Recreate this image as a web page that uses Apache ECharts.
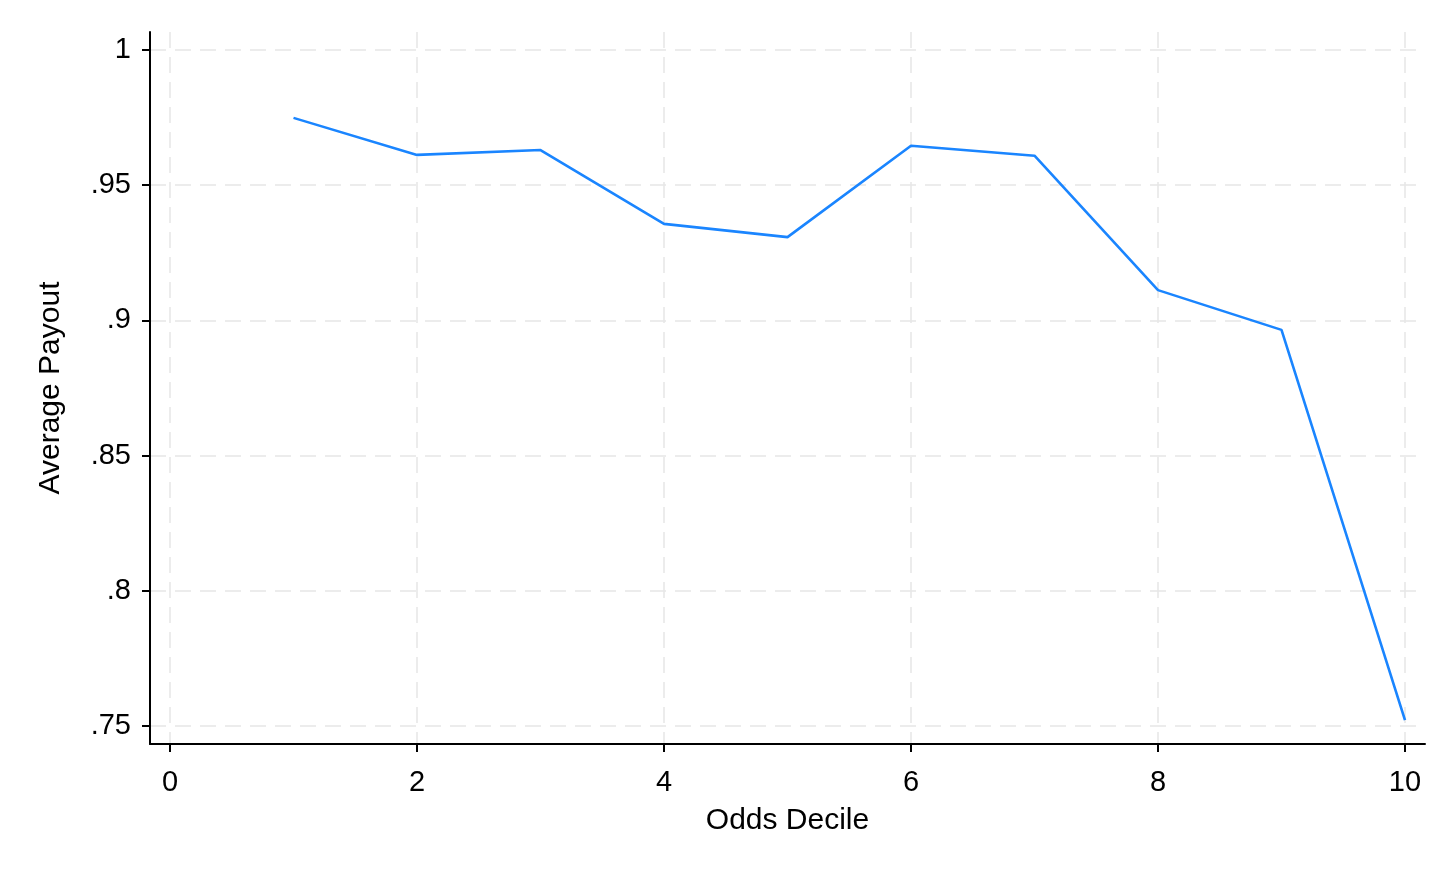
<!DOCTYPE html>
<html>
<head>
<meta charset="utf-8">
<script src="https://cdn.jsdelivr.net/npm/echarts@6/dist/echarts.min.js"></script>
<style>html,body{margin:0;padding:0;background:#fff}#c{width:1456px;height:873px}</style>
</head>
<body>
<div id="c"></div>
<script>
const deciles = [1, 2, 3, 4, 5, 6, 7, 8, 9, 10];
const payouts = [0.9749, 0.9612, 0.9630, 0.9357, 0.9308, 0.9646, 0.9609, 0.9112, 0.8965, 0.7522];
const xTicks = [0, 2, 4, 6, 8, 10];
const yTicks = [0.75, 0.8, 0.85, 0.9, 0.95, 1];
const xTitle = 'Odds Decile';
const yTitle = 'Average Payout';

const font = 'Liberation Sans, Arial, sans-serif';
const gridLine = { show: true, lineStyle: { color: '#e6e6e6', width: 1.5, type: [16, 9] } };

const chart = echarts.init(document.getElementById('c'), null, { renderer: 'canvas' });
chart.setOption({
  animation: false,
  backgroundColor: '#fff',
  grid: { left: 150, right: 31, top: 32, bottom: 129, containLabel: false },
  xAxis: {
    type: 'value',
    min: -0.162, max: 10.162,
    name: xTitle, nameLocation: 'middle', nameGap: 62,
    nameTextStyle: { fontFamily: font, fontSize: 30, color: '#000' },
    axisLine: { show: true, onZero: false, lineStyle: { color: '#000', width: 2 } },
    axisTick: { show: true, length: 8, customValues: xTicks, lineStyle: { color: '#000', width: 2 } },
    axisLabel: { customValues: xTicks, margin: 24, fontFamily: font, fontSize: 29, color: '#000' },
    splitLine: gridLine
  },
  yAxis: {
    type: 'value',
    min: 0.74334, max: 1.00666,
    name: yTitle, nameLocation: 'middle', nameGap: 84, nameRotate: 90,
    nameTextStyle: { fontFamily: font, fontSize: 30, color: '#000' },
    axisLine: { show: true, onZero: false, lineStyle: { color: '#000', width: 2 } },
    axisTick: { show: true, length: 8, customValues: yTicks, lineStyle: { color: '#000', width: 2 } },
    axisLabel: {
      customValues: yTicks, margin: 19, fontFamily: font, fontSize: 29, color: '#000',
      formatter: v => { const s = String(+v.toFixed(2)); return s.startsWith('0') ? s.slice(1) : s; }
    },
    splitLine: gridLine
  },
  series: [{
    type: 'line',
    data: deciles.map((d, i) => [d, payouts[i]]),
    showSymbol: false,
    lineStyle: { color: '#1a85ff', width: 2.6 },
    itemStyle: { color: '#1a85ff' }
  }]
});
</script>
</body>
</html>
